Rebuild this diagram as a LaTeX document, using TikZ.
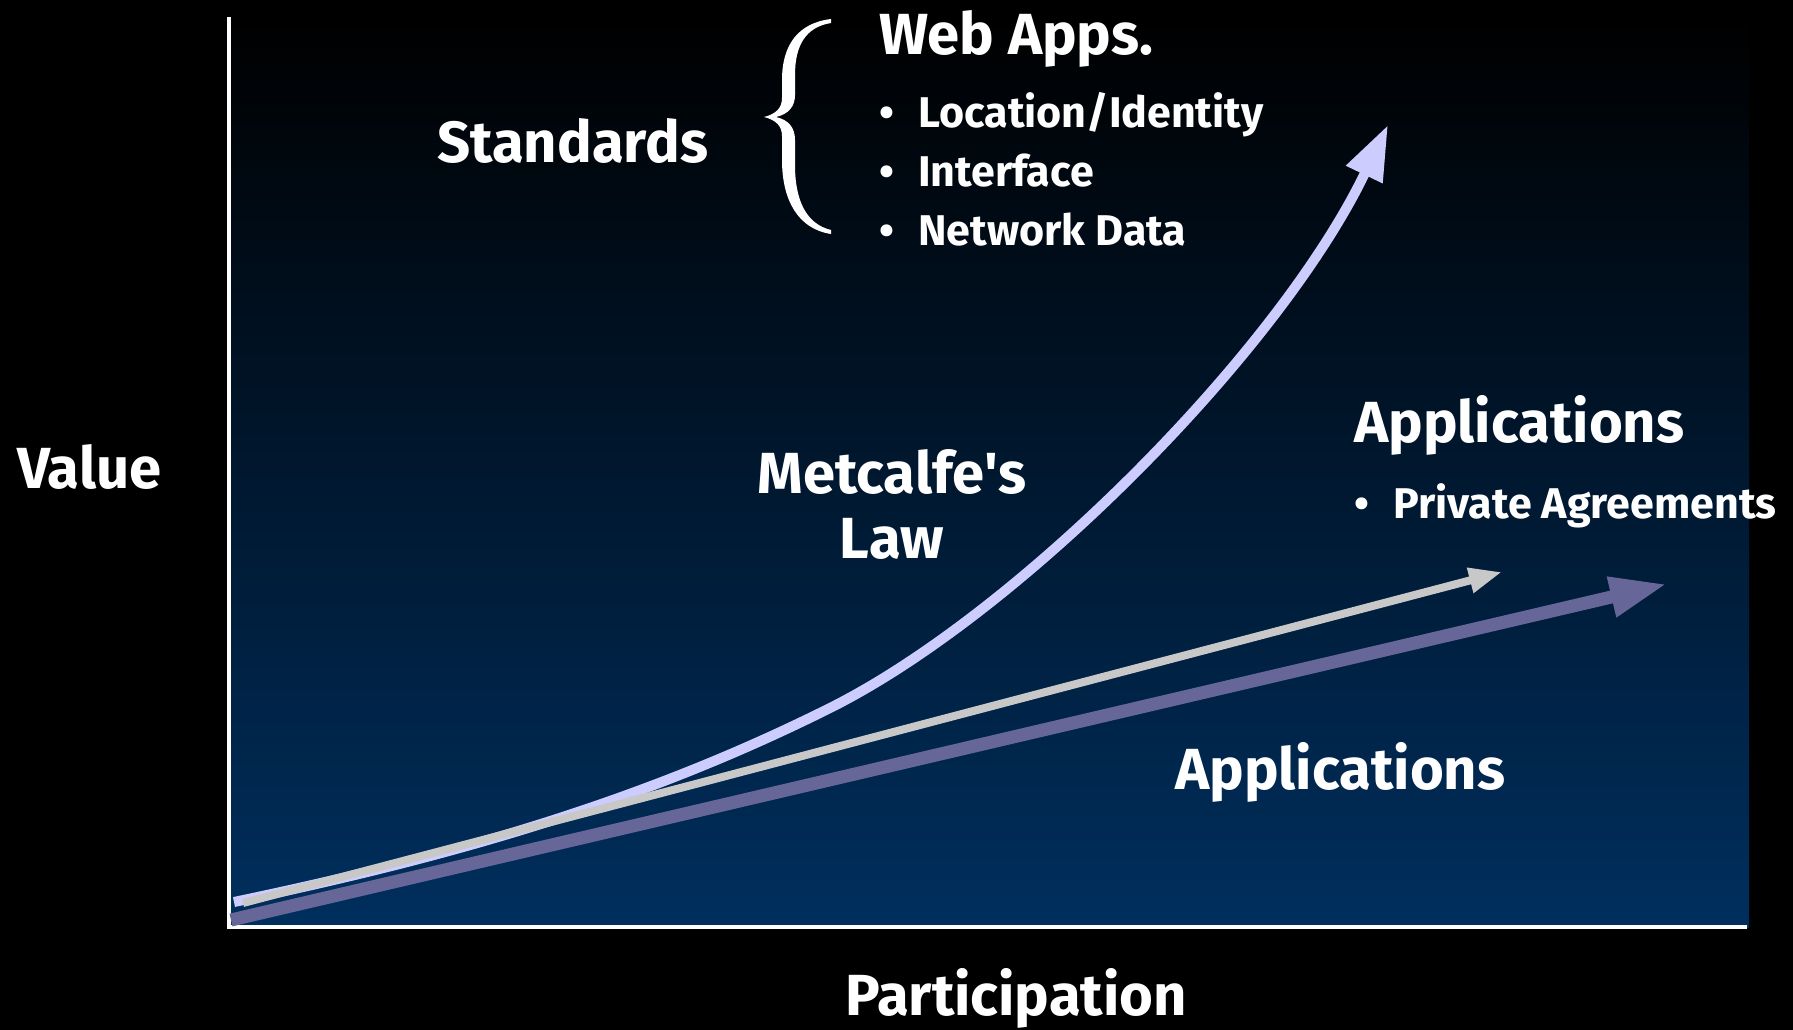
\documentclass[tikz,border=0pt]{standalone}
\usepackage{fontspec}
\setmainfont{Fira Sans}
\usetikzlibrary{arrows.meta}
\definecolor{plotblue}{RGB}{0,47,94}
\definecolor{metcol}{RGB}{204,204,255}
\definecolor{linecol}{RGB}{200,200,200}
\definecolor{appcol}{RGB}{102,102,153}
\tikzset{
  big/.style={text=white, font=\fontsize{58}{60}\selectfont\bfseries, inner sep=0pt},
  small/.style={text=white, font=\fontsize{43}{45}\selectfont\bfseries, inner sep=0pt},
}
\newcommand{\bul}{\makebox[39pt][l]{\textbullet}}
\begin{document}
\begin{tikzpicture}[x=1pt, y=-1pt]
\useasboundingbox[fill=black] (0,0) rectangle (1793,1030);
% Plot
\shade[top color=black, bottom color=plotblue] (231,17) rectangle (1749,927);
\draw[white, line width=4pt] (229,17) -- (229,929);
\draw[white, line width=4pt] (227,927) -- (1747,927);
% Pijlen
\coordinate (a0) at (231,920);
\coordinate (a1) at (1667,584);
\coordinate (m0) at (234,902);
\coordinate (mm) at (830,708);
\coordinate (m1) at (1388,125);
\coordinate (g0) at (243,903);
\coordinate (g1) at (1502,572);
\draw[appcol, line width=13pt, -{Triangle[length=57pt, width=38pt]}] (a0) -- (a1);
\draw[metcol, line width=10pt, -{Triangle[length=55pt, width=38pt]}]
  (m0) .. controls (434,860) and (630,808) .. (mm)
       .. controls (1020,613) and (1280,350) .. (m1);
\draw[linecol, line width=8pt, -{Triangle[length=33pt, width=24pt]}] (g0) -- (g1);
% Accolade
\fill[white] (831,19) .. controls (798,23) and (782,45) .. (782,80) -- (782,98)
  .. controls (782,108) and (776,114) .. (764,117)
  .. controls (776,120) and (782,126) .. (782,136) -- (782,160)
  .. controls (782,200) and (798,229) .. (831,234)
  -- (831,230) .. controls (806,224) and (795,200) .. (795,165) -- (795,140)
  .. controls (795,128) and (789,120) .. (776,117)
  .. controls (789,114) and (795,106) .. (795,95) -- (795,75)
  .. controls (795,45) and (806,27) .. (831,23) -- cycle;
% Teksten
\node[big, anchor=base west] (value) at (17,488) {Value};
\node[big, anchor=base] (part) at (1016,1015) {Participation};
\node[big, anchor=base west] (std) at (437,162) {Standards};
\node[big, anchor=base west] (web) at (879,55) {Web Apps.};
\node[small, anchor=base west] (loc) at (879,128) {\bul Location/Identity};
\node[small, anchor=base west] (iface) at (879,186) {\bul Interface};
\node[small, anchor=base west] (netdata) at (879,245) {\bul Network Data};
\node[big, anchor=base] (metc) at (892,493) {Metcalfe\textquotesingle s};
\node[big, anchor=base] (law) at (892,558) {Law};
\node[big, anchor=base west] (apptop) at (1354,442) {Applications};
\node[small, anchor=base west] (priv) at (1354,518) {\bul Private Agreements};
\node[big, anchor=base west] (appbot) at (1175,789) {Applications};
\end{tikzpicture}
\end{document}
